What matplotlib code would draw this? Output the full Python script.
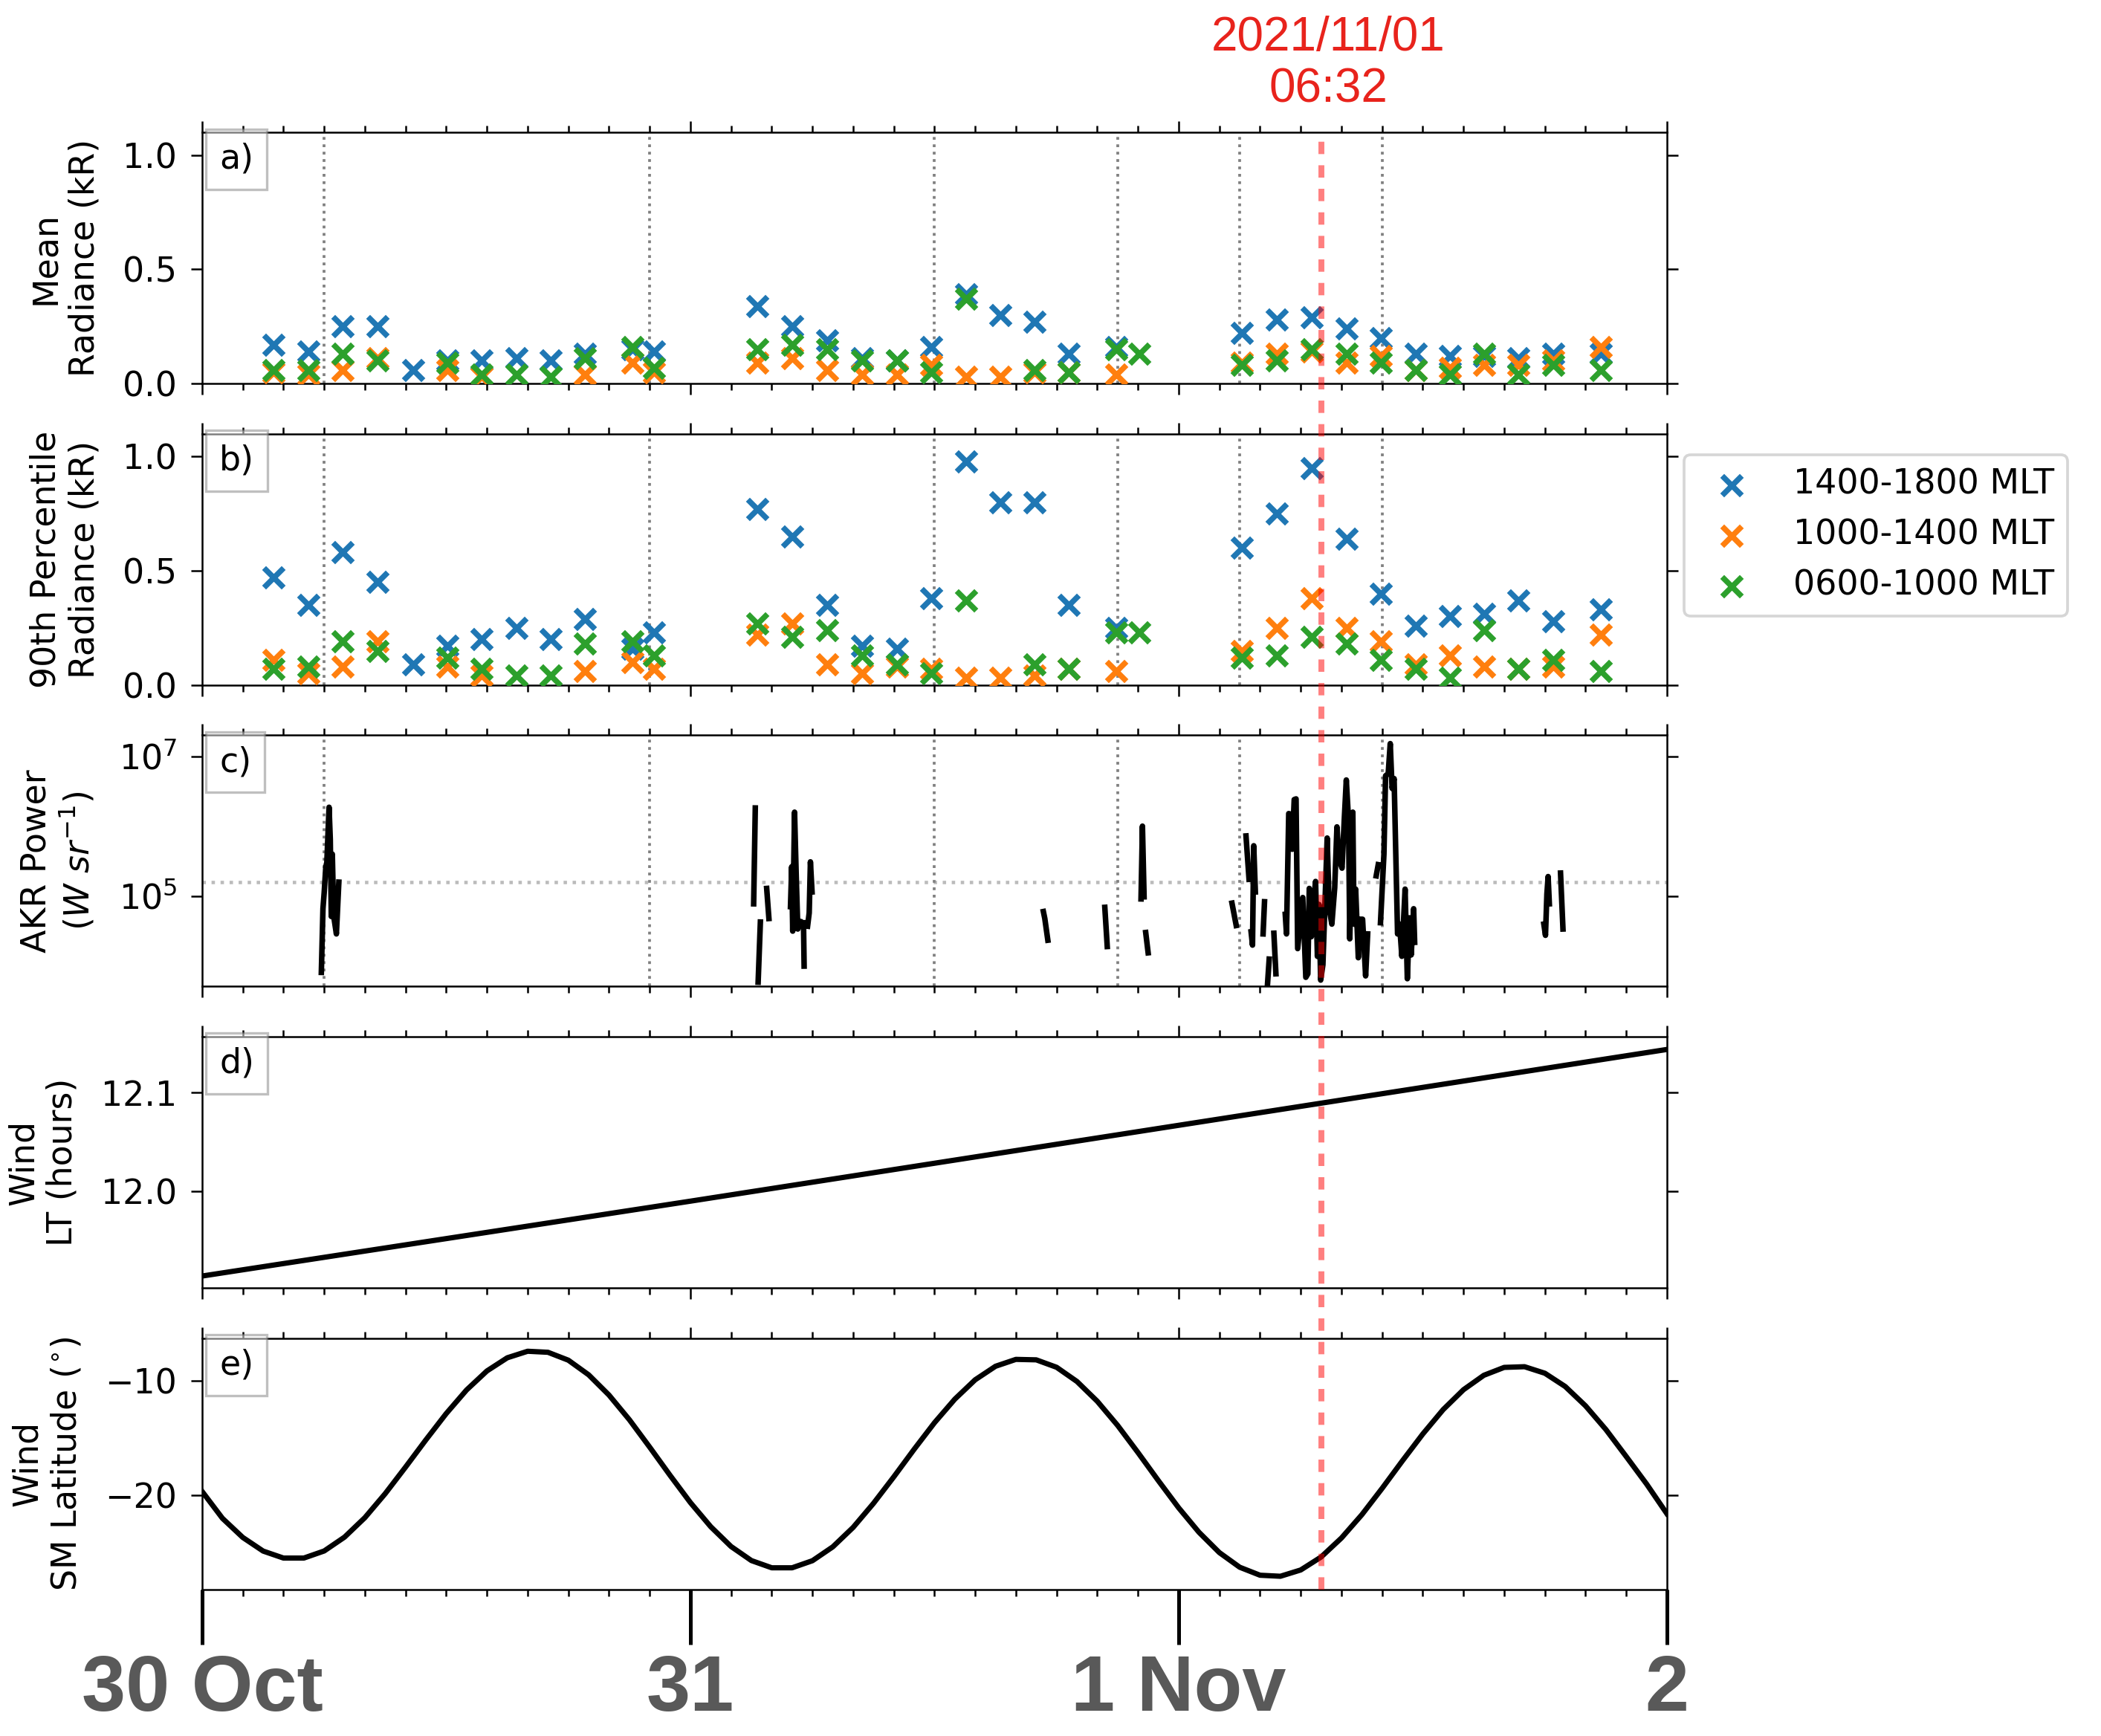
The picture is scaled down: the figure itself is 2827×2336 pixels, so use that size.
import numpy as np
import matplotlib
matplotlib.use('Agg')
import matplotlib.pyplot as plt
import matplotlib.dates as mdates
import matplotlib.transforms as mtransforms
from matplotlib.lines import Line2D
from matplotlib.ticker import NullLocator

# time axis: hours after 2021-10-30 00:00
start = np.datetime64('2021-10-30T00:00')

# image times and radiance per MLT sector (kR)
img_hours = [3.51, 5.22, 6.92, 8.63, 10.36, 12.04, 13.74, 15.45, 17.13, 18.80, 21.15, 22.21,
             27.30, 29.00, 30.74, 32.43, 34.14, 35.85, 37.54, 39.23, 40.91, 42.60, 44.93, 46.06,
             51.10, 52.81, 54.53, 56.24, 57.93, 59.65, 61.33, 63.02, 64.71, 66.40, 68.76]
nan = np.nan
mean_1418 = [0.17, 0.14, 0.25, 0.25, 0.06, 0.10, 0.10, 0.11, 0.10, 0.13, 0.15, 0.14,
             0.34, 0.25, 0.19, 0.11, 0.10, 0.16, 0.39, 0.30, 0.27, 0.13, 0.16, nan,
             0.22, 0.28, 0.29, 0.24, 0.20, 0.13, 0.12, 0.12, 0.11, 0.13, 0.13]
mean_1014 = [0.05, 0.04, 0.06, 0.11, nan, 0.06, 0.03, nan, nan, 0.04, 0.09, 0.05,
             0.09, 0.11, 0.06, 0.04, 0.04, 0.08, 0.03, 0.03, 0.05, 0.05, 0.04, nan,
             0.09, 0.13, 0.14, 0.09, 0.12, 0.06, 0.07, 0.08, 0.08, 0.10, 0.16]
mean_0610 = [0.06, 0.06, 0.13, 0.10, nan, 0.09, 0.04, 0.04, 0.03, 0.11, 0.16, 0.07,
             0.15, 0.17, 0.15, 0.10, 0.10, 0.05, 0.37, nan, 0.06, 0.05, 0.15, 0.13,
             0.08, 0.10, 0.15, 0.13, 0.09, 0.06, 0.04, 0.13, 0.04, 0.08, 0.06]
p90_1418 = [0.47, 0.35, 0.58, 0.45, 0.09, 0.17, 0.20, 0.25, 0.20, 0.29, 0.16, 0.23,
            0.77, 0.65, 0.35, 0.17, 0.16, 0.38, 0.98, 0.80, 0.80, 0.35, 0.25, nan,
            0.60, 0.75, 0.95, 0.64, 0.40, 0.26, 0.30, 0.31, 0.37, 0.28, 0.33]
p90_1014 = [0.11, 0.05, 0.08, 0.19, nan, 0.08, 0.04, nan, nan, 0.06, 0.10, 0.07,
            0.22, 0.27, 0.09, 0.05, 0.08, 0.07, 0.03, 0.03, 0.04, 0.07, 0.06, nan,
            0.15, 0.25, 0.38, 0.25, 0.19, 0.09, 0.13, 0.08, 0.07, 0.08, 0.22]
p90_0610 = [0.07, 0.08, 0.19, 0.15, nan, 0.12, 0.07, 0.04, 0.04, 0.18, 0.19, 0.13,
            0.27, 0.21, 0.24, 0.13, 0.09, 0.05, 0.37, nan, 0.09, 0.07, 0.23, 0.23,
            0.12, 0.13, 0.21, 0.18, 0.11, 0.07, 0.03, 0.24, 0.07, 0.11, 0.06]
sector_labels = ['1400-1800 MLT', '1000-1400 MLT', '0600-1000 MLT']

# AKR power, log10(W/sr), nan = data gap
akr_hours = [5.86, 5.94, 6.00, 6.08, 6.13, 6.24, 6.30, 6.35, 6.40, 6.47, 6.60, 6.72, 6.72,
             27.11, 27.19, 27.19, 27.33, 27.44, 27.44, 27.75, 27.86, 27.86,
             28.92, 28.98, 29.03, 29.12, 29.20, 29.28, 29.37, 29.37,
             29.56, 29.59, 29.59, 29.76, 29.84, 29.90, 29.98, 29.98,
             41.35, 41.42, 41.57, 41.57, 44.37, 44.49, 44.49,
             46.15, 46.22, 46.30, 46.30, 46.38, 46.50, 46.50,
             50.62, 50.83, 50.83, 51.31, 51.46, 51.46,
             51.56, 51.63, 51.69, 51.77, 51.77, 52.15, 52.22, 52.22,
             52.36, 52.45, 52.45, 52.68, 52.78, 52.78,
             53.24, 53.30, 53.41, 53.52, 53.58, 53.68, 53.77, 53.85, 54.10, 54.25,
             54.35, 54.42, 54.52, 54.63, 54.73, 54.82, 54.90, 54.98, 55.09, 55.30,
             55.40, 55.53, 55.67, 55.78, 55.88, 56.03, 56.14, 56.24, 56.35, 56.41,
             56.56, 56.62, 56.70, 56.83, 56.91, 57.04, 57.19, 57.29, 57.29,
             57.71, 57.81, 57.81,
             57.92, 58.09, 58.17, 58.30, 58.40, 58.49, 58.59, 58.76, 58.86, 58.97,
             59.13, 59.24, 59.35, 59.43, 59.55, 59.60, 59.60,
             65.95, 66.03, 66.10, 66.16, 66.22, 66.22,
             66.77, 66.89]
akr_log10 = [3.91, 4.82, 5.05, 5.42, 5.48, 6.27, 5.81, 4.71, 5.60, 4.71, 4.46, 5.20, nan,
             4.89, 6.26, nan, 3.77, 4.63, nan, 5.11, 4.68, nan,
             4.85, 5.42, 4.50, 6.20, 5.31, 4.53, 4.64, nan,
             4.62, 4.00, nan, 4.57, 4.76, 5.49, 5.06, nan,
             4.78, 4.68, 4.37, nan, 4.84, 4.28, nan,
             4.96, 6.00, 4.99, nan, 4.48, 4.19, nan,
             4.90, 4.58, nan, 5.86, 5.24, nan,
             4.49, 4.30, 5.72, 5.06, nan, 4.46, 4.92, nan,
             3.71, 4.10, nan, 4.47, 3.89, nan,
             4.74, 4.46, 6.18, 6.17, 5.67, 6.38, 6.39, 4.25, 4.98, 3.84,
             3.89, 5.11, 4.42, 4.92, 5.21, 4.14, 4.88, 3.80, 4.02, 5.83,
             4.82, 4.60, 5.12, 5.99, 5.53, 5.40, 6.09, 6.66, 6.09, 4.39,
             6.20, 4.60, 5.10, 4.12, 4.67, 4.67, 3.86, 4.46, nan,
             5.29, 5.45, nan,
             4.62, 5.60, 6.72, 6.75, 7.18, 6.54, 6.68, 4.46, 4.60, 4.14,
             5.10, 3.82, 4.69, 4.16, 4.82, 4.34, nan,
             4.60, 4.44, 5.03, 5.28, 4.89, nan,
             5.33, 4.53]
akr_threshold = 1.6e5

# Wind local time (hours)
lt_hours = [0, 24, 48, 72]
lt_values = [11.914, 11.990, 12.067, 12.144]

# Wind SM latitude (deg), hourly
lat_hours = list(range(73))
lat_values = [-19.70, -22.05, -23.72, -24.91, -25.52, -25.52, -24.90, -23.69, -21.99, -19.89,
              -17.57, -15.19, -12.89, -10.83, -9.17, -8.02, -7.45, -7.54, -8.23, -9.51,
              -11.28, -13.43, -15.83, -18.29, -20.67, -22.78, -24.51, -25.74, -26.37, -26.37,
              -25.75, -24.54, -22.84, -20.74, -18.42, -16.01, -13.69, -11.63, -9.94, -8.76,
              -8.16, -8.20, -8.85, -10.09, -11.82, -13.93, -16.30, -18.75, -21.13, -23.27,
              -25.04, -26.32, -27.02, -27.11, -26.56, -25.43, -23.77, -21.74, -19.43, -17.02,
              -14.68, -12.55, -10.81, -9.55, -8.86, -8.80, -9.37, -10.53, -12.22, -14.29,
              -16.65, -19.05, -21.65]

# marker lines (hours) and highlighted time
event_hours = [6, 22, 36, 45, 51, 58]
highlight_hour = 55.0
highlight_label = '2021/11/01\n06:32'
day_labels = ['30 Oct', '31', '1 Nov', '2']


def to_time(hours):
    return start + np.round(np.asarray(hours, dtype=float) * 3600).astype('timedelta64[s]')


plt.rcParams['font.family'] = 'DejaVu Sans'
plt.rcParams['font.size'] = 11
plt.rcParams['axes.linewidth'] = 0.6
plt.rcParams['mathtext.fontset'] = 'dejavusans'

fig = plt.figure(figsize=(2827 / 300, 2336 / 300), dpi=300)
gs = fig.add_gridspec(5, 1, left=0.0962, right=0.7934, top=0.9238, bottom=0.0845, hspace=0.2)
axes = [fig.add_subplot(gs[i]) for i in range(5)]
ax_a, ax_b, ax_c, ax_d, ax_e = axes

t_img = to_time(img_hours)
cols = ['tab:blue', 'tab:orange', 'tab:green']

# a) mean radiance
for vals, c, lab in zip([mean_1418, mean_1014, mean_0610], cols, sector_labels):
    ax_a.scatter(t_img, vals, marker='x', s=40, linewidths=1.8, color=c, label=lab, zorder=3)
ax_a.set_ylim(0, 1.1)
ax_a.set_yticks([0.0, 0.5, 1.0])
ax_a.set_ylabel('Mean\nRadiance (kR)', labelpad=7)

# b) 90th percentile radiance
for vals, c, lab in zip([p90_1418, p90_1014, p90_0610], cols, sector_labels):
    ax_b.scatter(t_img, vals, marker='x', s=40, linewidths=1.8, color=c, label=lab, zorder=3)
ax_b.set_ylim(0, 1.1)
ax_b.set_yticks([0.0, 0.5, 1.0])
ax_b.set_ylabel('90th Percentile\nRadiance (kR)', labelpad=7)
leg = ax_b.legend(loc='upper left', bbox_to_anchor=(1.0, 0.985), fontsize=11)
leg.get_frame().set_linewidth(0.9)

# c) AKR power
ax_c.plot(to_time(akr_hours), 10 ** np.array(akr_log10), color='k', lw=1.8, zorder=3)
ax_c.axhline(akr_threshold, color='#bbbbbb', ls=':', lw=1.1, zorder=1)
ax_c.set_yscale('log')
ax_c.set_ylim(10 ** 3.71, 10 ** 7.30)
ax_c.set_yticks([1e5, 1e7])
ax_c.yaxis.set_minor_locator(NullLocator())
ax_c.set_ylabel('AKR Power\n($W$ $sr^{-1}$)', labelpad=7)

for ax in [ax_a, ax_b, ax_c]:
    for h in event_hours:
        ax.axvline(to_time([h])[0], color='gray', ls=':', lw=0.9, zorder=1)

# d) Wind local time
ax_d.plot(to_time(lt_hours), lt_values, color='k', lw=1.7)
ax_d.set_ylim(11.902, 12.157)
ax_d.set_yticks([12.0, 12.1])
ax_d.set_ylabel('Wind\nLT (hours)', labelpad=7)

# e) Wind SM latitude
ax_e.plot(to_time(lat_hours), lat_values, color='k', lw=1.7, solid_joinstyle='round')
ax_e.set_ylim(-28.25, -6.3)
ax_e.set_yticks([-20, -10])
ax_e.set_ylabel('Wind\nSM Latitude ($^{\\circ}$)', labelpad=7)

days = to_time([0, 24, 48, 72])
for ax, letter in zip(axes, 'abcde'):
    ax.set_xlim(days[0], days[-1])
    ax.set_xticks(days)
    ax.xaxis.set_minor_locator(mdates.HourLocator(byhour=range(0, 24, 2)))
    ax.tick_params(axis='both', which='both', direction='out', top=True, right=True,
                   width=0.6, labelsize=11)
    ax.tick_params(which='major', length=3.6)
    ax.tick_params(which='minor', length=2.2)
    ax.tick_params(axis='y', pad=4.5)
    ax.tick_params(axis='x', labelbottom=False)
    ax.text(0.0117, 0.959, letter + ')', transform=ax.transAxes, ha='left', va='top',
            fontsize=11, zorder=5,
            bbox=dict(boxstyle='square,pad=0.4', facecolor='white', edgecolor='gray',
                      alpha=0.5, linewidth=0.8))

# big day labels on the bottom panel
ax_e.tick_params(axis='x', which='major', labelbottom=True, pad=17.2)
ax_e.set_xticklabels(day_labels, fontfamily='Liberation Sans', fontweight='bold',
                     fontsize=25.5, color='#595959')
for tk in ax_e.xaxis.get_major_ticks():
    tk.tick1line.set_markersize(17.8)
    tk.tick1line.set_markeredgewidth(1.2)

# highlighted time: dashed line through all panels and its label
x_hl = mdates.date2num(to_time([highlight_hour])[0])
y_top = ax_a.get_position().y1
y_bot = ax_e.get_position().y0
blend = mtransforms.blended_transform_factory(ax_a.transData, fig.transFigure)
fig.add_artist(Line2D([x_hl, x_hl], [y_bot, y_top], transform=blend, color='red',
                      alpha=0.5, lw=1.9, dashes=(2.1, 1.9)))
ax_a.annotate(highlight_label, xy=(x_hl, 1.0),
              xycoords=mtransforms.blended_transform_factory(ax_a.transData, ax_a.transAxes),
              xytext=(2.4, 6.6), textcoords='offset points', ha='center', va='bottom',
              fontsize=15.3, color='#e8231c', fontfamily='Liberation Sans', annotation_clip=False)

fig.savefig('out.png', dpi=300)
